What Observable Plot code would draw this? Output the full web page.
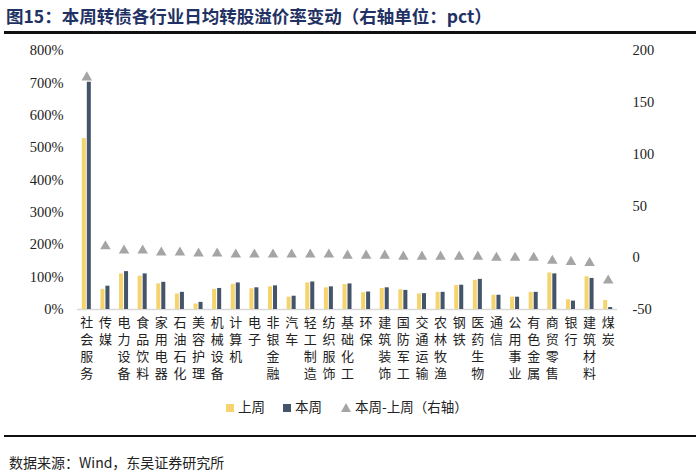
<!DOCTYPE html>
<html>
<head>
<meta charset="utf-8">
<script src="https://cdn.jsdelivr.net/npm/d3@7"></script>
<script src="https://cdn.jsdelivr.net/npm/@observablehq/plot@0.6"></script>
<style>
  html, body { margin: 0; padding: 0; background: #fff; }
  #wrap { position: relative; width: 700px; height: 474px; background: #fff; overflow: hidden; }
  #title { position: absolute; left: 6px; top: 3px; font-family: "Noto Sans CJK SC", sans-serif; font-weight: 700; font-size: 17.5px; color: #1f3263; white-space: nowrap; }
  #rule1 { position: absolute; left: 4px; top: 31px; width: 692px; height: 3px; background: #111; }
  #chart { position: absolute; left: 0; top: 40px; }
  #legend { position: absolute; top: 396px; left: 0; width: 700px; font-family: "Noto Sans CJK SC", sans-serif; font-size: 13.5px; color: #222; }
  .li { position: absolute; top: 0; white-space: nowrap; line-height: 20px; }
  .sw { display: inline-block; width: 8px; height: 8px; margin-right: 4px; vertical-align: 0px; }
  #rule2 { position: absolute; left: 4px; top: 435px; width: 692px; height: 2px; background: #111; }
  #caption { position: absolute; left: 9px; top: 452px; font-family: "Noto Sans CJK SC", sans-serif; font-size: 14px; color: #222; white-space: nowrap; }
</style>
</head>
<body>
<div id="wrap">
  <div id="title">图15：本周转债各行业日均转股溢价率变动（右轴单位：pct）</div>
  <div id="rule1"></div>
  <div id="chart"></div>
  <div id="legend"></div>
  <div id="rule2"></div>
  <div id="caption">数据来源：Wind，东吴证券研究所</div>
</div>
<script>
const categories = ["社会服务","传媒","电力设备","食品饮料","家用电器","石油石化","美容护理","机械设备","计算机","电子","非银金融","汽车","轻工制造","纺织服饰","基础化工","环保","建筑装饰","国防军工","交通运输","农林牧渔","钢铁","医药生物","通信","公用事业","有色金属","商贸零售","银行","建筑材料","煤炭"];
const lastWeek = [528, 62, 110, 103, 79, 48, 17, 62, 78, 64, 70, 38, 82, 67, 77, 52, 65, 61, 48, 53, 74, 90, 44, 38, 53, 113, 30, 101, 28];
const thisWeek = [702, 72, 117, 110, 84, 53, 22, 65, 82, 67, 73, 41, 85, 70, 79, 54, 67, 59, 49, 53, 75, 93, 44, 38, 53, 110, 26, 96, 6];
const change = [174, 11, 7, 7, 5, 5, 4, 4, 3, 3, 3, 3, 3, 3, 2, 2, 2, 1, 1, 1, 1, 1, 0, 0, 0, -3, -4, -5, -22];
const leftTicks = [0, 100, 200, 300, 400, 500, 600, 700, 800];
const rightTicks = [-50, 0, 50, 100, 150, 200];
const seriesNames = ["上周", "本周", "本周-上周（右轴）"];
const colors = ["#F5D46E", "#44546A", "#A5A5A5"];

// right axis [-50, 200] maps onto left axis [0, 800]
const toLeft = v => (v + 50) * 800 / 250;
const fromLeft = t => t * 250 / 800 - 50;

const data = categories.map((c, i) => ({cat: c, prev: lastWeek[i], cur: thisWeek[i], diff: change[i]}));

const numFont = "Liberation Serif, Times New Roman, serif";
const cjkFont = "Noto Sans CJK SC, sans-serif";

// vertical (one character per line) category labels, one axis per text row
const maxChars = d3.max(categories, c => c.length);
const labelRows = d3.range(maxChars).map(r =>
  Plot.axisX({anchor: "bottom", tickSize: 0, tickPadding: 8 + r * 17, tickFormat: d => d[r] ?? "", fontSize: 13, fontFamily: cjkFont, fill: "#222", label: null})
);

const chart = Plot.plot({
  width: 700,
  height: 350,
  marginTop: 10,
  marginBottom: 81,
  marginLeft: 77,
  marginRight: 83,
  style: {background: "transparent", overflow: "visible"},
  x: {type: "band", domain: categories, padding: 0, round: false, axis: null},
  y: {domain: [0, 800], axis: null},
  marks: [
    Plot.ruleY([0], {stroke: "#d9d9d9", strokeWidth: 1.5}),
    Plot.barY(data, {x: "cat", y: "prev", fill: colors[0], insetLeft: 4.8, insetRight: 9.8}),
    Plot.barY(data, {x: "cat", y: "cur", fill: colors[1], insetLeft: 9.8, insetRight: 4.8}),
    Plot.dot(data, {x: "cat", y: d => toLeft(d.diff), symbol: "triangle", r: 3.9, fill: colors[2], stroke: "none"}),
    Plot.axisY({anchor: "left", ticks: leftTicks, tickFormat: d => d + "%", tickSize: 0, tickPadding: 14, fontSize: 14.5, fontFamily: numFont, fill: "#222", label: null}),
    Plot.axisY({anchor: "right", ticks: rightTicks.map(toLeft), tickFormat: t => String(Math.round(fromLeft(t))), tickSize: 0, tickPadding: 15, fontSize: 14.5, fontFamily: numFont, fill: "#222", textAnchor: "start", label: null}),
    ...labelRows
  ]
});
document.getElementById("chart").appendChild(chart);

// legend
const legend = document.getElementById("legend");
const positions = [226, 283, 341];
seriesNames.forEach((name, i) => {
  const el = document.createElement("div");
  el.className = "li";
  el.style.left = positions[i] + "px";
  let sw;
  if (i < 2) {
    sw = `<span class="sw" style="background:${colors[i]}"></span>`;
  } else {
    sw = `<svg width="10" height="9" style="margin-right:4px;vertical-align:0px"><polygon points="5,0 10,9 0,9" fill="${colors[2]}"/></svg>`;
  }
  el.innerHTML = sw + name;
  legend.appendChild(el);
});
</script>
</body>
</html>
